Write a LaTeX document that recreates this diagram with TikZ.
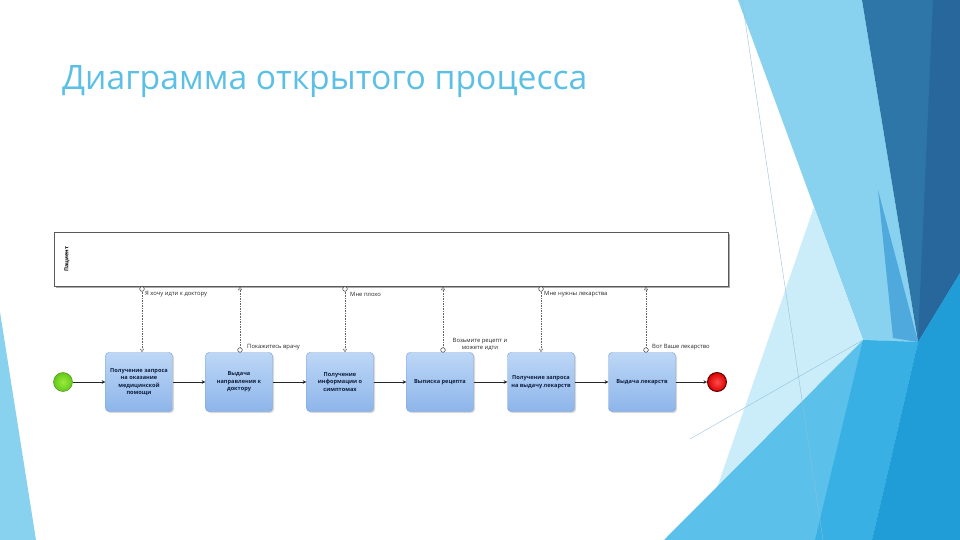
\documentclass[tikz,border=0pt]{standalone}
\usepackage{fontspec}
\setmainfont{Open Sans}
\usepackage{tikz}
\usetikzlibrary{arrows.meta,positioning,shadows,calc}
\usepackage{xcolor}

\definecolor{titleblue}{HTML}{5CC0E6}
\definecolor{facetlight}{HTML}{88D2F0}
\definecolor{facetpale}{HTML}{CBEDF9}
\definecolor{facetmid}{HTML}{5CC1EA}
\definecolor{facetband}{HTML}{38B0E3}
\definecolor{facetstreak}{HTML}{4FA9DD}
\definecolor{facetdark}{HTML}{2E75A8}
\definecolor{facetdeep}{HTML}{27679C}
\definecolor{facetblue}{HTML}{209DD6}
\definecolor{facetline}{HTML}{8CBFD8}
\definecolor{tasktop}{HTML}{BDD7F6}
\definecolor{taskbot}{HTML}{8DB5EA}
\definecolor{taskedge}{HTML}{7AA2DA}
\definecolor{tasktext}{HTML}{10203F}
\definecolor{startin}{HTML}{9CEB3A}
\definecolor{startout}{HTML}{62C81C}

\begin{document}
\begin{tikzpicture}[
    x=0.03cm, y=-0.03cm,
    pool/.style={draw=black!65, fill=white, line width=0.5pt, minimum width=20.22cm, minimum height=1.62cm, inner sep=0pt,
      drop shadow={shadow xshift=1.2pt, shadow yshift=-1.2pt, opacity=0.55, fill=black!60}},
    poollabel/.style={font=\fontsize{4.6}{5.5}\selectfont\bfseries, inner sep=0pt},
    task/.style={draw=taskedge, rounded corners=3pt, minimum width=2.01cm, minimum height=1.77cm, inner sep=1pt,
      top color=tasktop, bottom color=taskbot, align=center, text=tasktext, font=\fontsize{4.8}{6.5}\selectfont\bfseries,
      drop shadow={shadow xshift=1.3pt, shadow yshift=-1.3pt, opacity=0.3}},
    startev/.style={circle, draw=startout!70!black, inner color=startin, outer color=startout, minimum size=0.57cm, inner sep=0pt},
    endev/.style={circle, draw=red!35!black, line width=0.8pt, inner color=red!70!white, outer color=red!85!black, minimum size=0.57cm, inner sep=0pt},
    flow/.style={draw=black!85, line width=0.5pt, -{Stealth[length=3pt, width=3pt]}},
    msg/.style={densely dotted, draw=black!60, line width=0.4pt, -{Triangle[open, length=3pt, width=3.5pt]}},
    src/.style={circle, draw=black!80, fill=white, line width=0.4pt, inner sep=0pt, minimum size=4pt},
    note/.style={font=\fontsize{5}{6}\selectfont, text=black!85, inner sep=0pt},
    >=Stealth
  ]
  \useasboundingbox (0,0) rectangle (960,540);

  % Background facets
  \fill[white] (0,0) rectangle (960,540);
  \fill[facetlight] (0,312) -- (36,540) -- (0,540) -- cycle;
  \fill[facetlight] (738,0) -- (862,0) -- (918,342) -- (863,340) -- cycle;
  \fill[facetstreak] (878,190) -- (918,342) -- (893,338) -- cycle;
  \fill[facetpale] (814,207) -- (863,340) -- (718,485) -- cycle;
  \fill[facetmid] (664,540) -- (863,340) -- (918,342) -- (872,540) -- cycle;
  \fill[facetband] (863,340) -- (918,342) -- (872,540) -- (815,540) -- cycle;
  \fill[facetdark] (862,0) -- (960,0) -- (960,273) -- (918,342) -- cycle;
  \fill[facetdeep] (933,0) -- (960,0) -- (960,273) -- (918,342) -- cycle;
  \fill[facetblue] (918,342) -- (960,273) -- (960,540) -- (872,540) -- cycle;
  \draw[facetline, line width=0.3pt] (742,0) -- (823,540);
  \draw[facetline, line width=0.3pt] (690,439) -- (863,340);

  % Title
  \node[anchor=base west, inner sep=0pt, text=titleblue] (title) at (62,90)
    {\resizebox{15.75cm}{!}{Диаграмма открытого процесса}};

  % Pool
  \node[pool, anchor=north west] (pool) at (54,232) {};
  \node[poollabel, rotate=90] (patient) at (67,259) {Пациент};

  % Tasks
  \node[task] (t1) at (139,382) {Получение запроса\\на оказание\\медицинской\\помощи};
  \node[task] (t2) at (239,382) {Выдача\\направления к\\доктору};
  \node[task] (t3) at (340,382) {Получение\\информации о\\симптомах};
  \node[task] (t4) at (440,382) {Выписка рецепта};
  \node[task] (t5) at (541,382) {Получение запроса\\на выдачу лекарств};
  \node[task] (t6) at (642,382) {Выдача лекарств};

  % Events
  \node[startev] (start) at (63,382) {};
  \node[endev] (finish) at (717,382) {};

  \foreach \a/\b in {start/t1, t1/t2, t2/t3, t3/t4, t4/t5, t5/t6, t6/finish}
    \draw[flow] (\a) -- (\b);

  % Messages from the patient
  \node[src] (s1) at (142,289) {};
  \draw[msg] (s1) -- (s1 |- t1.north);
  \node[note, anchor=west] (n1) at (145,294) {Я хочу идти к доктору};
  \node[src] (s3) at (345,289) {};
  \draw[msg] (s3) -- (s3 |- t3.north);
  \node[note, anchor=west] (n3) at (350,294) {Мне плохо};
  \node[src] (s5) at (541,289) {};
  \draw[msg] (s5) -- (s5 |- t5.north);
  \node[note, anchor=west] (n5) at (544,294) {Мне нужны лекарства};

  % Messages to the patient
  \node[src] (s2) at (240,350) {};
  \draw[msg] (s2) -- (s2 |- pool.south);
  \node[note, anchor=west] (n2) at (247,347) {Покажитесь врачу};
  \node[src] (s4) at (443,350) {};
  \draw[msg] (s4) -- (s4 |- pool.south);
  \node[note, align=center] (n4) at (480,344) {Возьмите рецепт и\\можете идти};
  \node[src] (s6) at (646,350) {};
  \draw[msg] (s6) -- (s6 |- pool.south);
  \node[note, anchor=west] (n6) at (652,347) {Вот Ваше лекарство};
\end{tikzpicture}
\end{document}
